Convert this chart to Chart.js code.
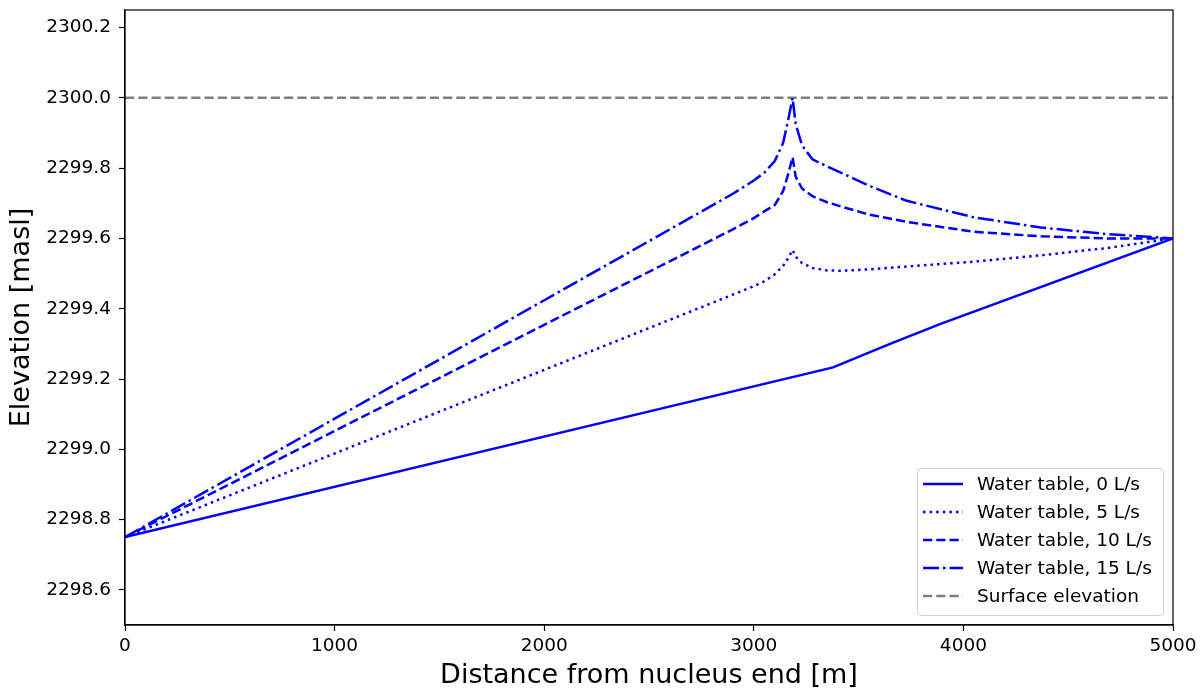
<!DOCTYPE html>
<html>
<head>
<meta charset="utf-8">
<script src="https://cdn.jsdelivr.net/npm/chart.js@4.4.1/dist/chart.umd.min.js"></script>
<style>
  html, body { margin: 0; padding: 0; background: #fff; }
</style>
</head>
<body>
<canvas id="wtChart" width="1204" height="691"></canvas>
<script>
// distance along the profile [m]
const xsFlow = [0, 1000, 2000, 2900, 3000, 3050, 3100, 3140, 3165, 3185, 3200, 3230, 3280, 3350, 3420, 3550, 3730, 4050, 4370, 4690, 5000];
const xsDry = [0, 3378, 3650, 3888, 5000];

// water table elevation [masl]
const wt0 = [2298.75, 2299.233, 2299.30, 2299.356, 2299.6];
const wt5 = [2298.75, 2298.988, 2299.226, 2299.44, 2299.464, 2299.478, 2299.498, 2299.522, 2299.545, 2299.567, 2299.548, 2299.53, 2299.516, 2299.509, 2299.508, 2299.512, 2299.52, 2299.534, 2299.552, 2299.573, 2299.6];
const wt10 = [2298.75, 2299.052, 2299.354, 2299.626, 2299.658, 2299.677, 2299.695, 2299.735, 2299.785, 2299.831, 2299.775, 2299.742, 2299.72, 2299.703, 2299.69, 2299.668, 2299.647, 2299.619, 2299.606, 2299.6, 2299.6];
const wt15 = [2298.75, 2299.087, 2299.424, 2299.727, 2299.765, 2299.787, 2299.82, 2299.872, 2299.94, 2300.0, 2299.925, 2299.865, 2299.825, 2299.805, 2299.786, 2299.75, 2299.707, 2299.66, 2299.631, 2299.612, 2299.6];

const surfaceX = [0, 5000];
const surfaceY = [2300.0, 2300.0];

const xTicks = [0, 1000, 2000, 3000, 4000, 5000];
const yTicks = [2298.6, 2298.8, 2299.0, 2299.2, 2299.4, 2299.6, 2299.8, 2300.0, 2300.2];

const labels = ['Water table, 0 L/s', 'Water table, 5 L/s', 'Water table, 10 L/s', 'Water table, 15 L/s', 'Surface elevation'];

function pts(xs, ys) {
    return xs.map((x, i) => ({x: x, y: ys[i]}));
}

const LW = 2.5;
const FONT = "'DejaVu Sans', sans-serif";

function lineSet(label, data, color, dash) {
    return {
        label: label,
        data: data,
        borderColor: color,
        backgroundColor: color,
        borderWidth: LW,
        borderDash: dash,
        pointRadius: 0,
        pointHoverRadius: 0,
        tension: 0,
        fill: false
    };
}

// frame round the axes + matplotlib-like legend in the lower right
const frameAndLegend = {
    id: 'frameAndLegend',
    afterDraw(chart) {
        const ctx = chart.ctx;
        const a = chart.chartArea;
        ctx.save();
        ctx.strokeStyle = '#000';
        ctx.lineWidth = 1.2;
        ctx.setLineDash([]);
        ctx.strokeRect(a.left, a.top, a.right - a.left, a.bottom - a.top);

        const w = 246, h = 147;
        const x0 = a.right - 10 - w;
        const y0 = a.bottom - 10 - h;
        ctx.beginPath();
        ctx.roundRect(x0 + 0.5, y0 + 0.5, w, h, 4);
        ctx.fillStyle = 'rgba(255,255,255,0.8)';
        ctx.fill();
        ctx.strokeStyle = '#d0d0d0';
        ctx.lineWidth = 1;
        ctx.stroke();

        ctx.font = '18.5px ' + FONT;
        ctx.textBaseline = 'middle';
        ctx.textAlign = 'left';
        chart.data.datasets.forEach((ds, i) => {
            const yy = y0 + 16 + i * 28;
            ctx.beginPath();
            ctx.setLineDash(ds.borderDash || []);
            ctx.lineWidth = ds.borderWidth;
            ctx.strokeStyle = ds.borderColor;
            ctx.moveTo(x0 + 6, yy);
            ctx.lineTo(x0 + 46, yy);
            ctx.stroke();
            ctx.setLineDash([]);
            ctx.fillStyle = '#000';
            ctx.fillText(ds.label, x0 + 60, yy + 1);
        });
        ctx.restore();
    }
};

const config = {
    type: 'line',
    data: {
        datasets: [
            lineSet(labels[0], pts(xsDry, wt0), '#0000ff', []),
            lineSet(labels[1], pts(xsFlow, wt5), '#0000ff', [2.5, 4.1]),
            lineSet(labels[2], pts(xsFlow, wt10), '#0000ff', [9.25, 4]),
            lineSet(labels[3], pts(xsFlow, wt15), '#0000ff', [16, 4, 2.5, 4]),
            lineSet(labels[4], pts(surfaceX, surfaceY), '#808080', [9.25, 4])
        ]
    },
    options: {
        responsive: false,
        animation: false,
        devicePixelRatio: 1,
        layout: {padding: {top: 10, right: 31, left: 0, bottom: 0}},
        plugins: {
            legend: {display: false},
            tooltip: {enabled: false}
        },
        scales: {
            x: {
                type: 'linear',
                min: 0,
                max: 5000,
                afterBuildTicks: s => { s.ticks = xTicks.map(v => ({value: v})); },
                afterFit: s => { s.height = 66; s.paddingLeft = 0; s.paddingRight = 0; },
                grid: {drawOnChartArea: false, drawTicks: true, tickLength: 6, color: '#000', tickWidth: 1.2},
                border: {display: true, color: '#000', width: 1.2},
                ticks: {
                    color: '#000',
                    padding: 4,
                    maxRotation: 0,
                    font: {family: FONT, size: 18.5},
                    callback: v => String(v)
                },
                title: {
                    display: true,
                    text: 'Distance from nucleus end [m]',
                    color: '#000',
                    font: {family: FONT, size: 27, lineHeight: 1},
                    padding: {top: 0, bottom: 2}
                }
            },
            y: {
                type: 'linear',
                min: 2298.5,
                max: 2300.25,
                afterBuildTicks: s => { s.ticks = yTicks.map(v => ({value: v})); },
                afterFit: s => { s.width = 125; s.paddingTop = 0; s.paddingBottom = 0; },
                grid: {drawOnChartArea: false, drawTicks: true, tickLength: 6, color: '#000', tickWidth: 1.2},
                border: {display: true, color: '#000', width: 1.2},
                ticks: {
                    color: '#000',
                    padding: 8,
                    font: {family: FONT, size: 18.5},
                    callback: v => Number(v).toFixed(1)
                },
                title: {
                    display: true,
                    text: 'Elevation [masl]',
                    color: '#000',
                    font: {family: FONT, size: 27, lineHeight: 1},
                    padding: {top: 8, bottom: 0}
                }
            }
        }
    },
    plugins: [frameAndLegend]
};

const wtChart = new Chart(document.getElementById('wtChart'), config);
</script>
</body>
</html>
